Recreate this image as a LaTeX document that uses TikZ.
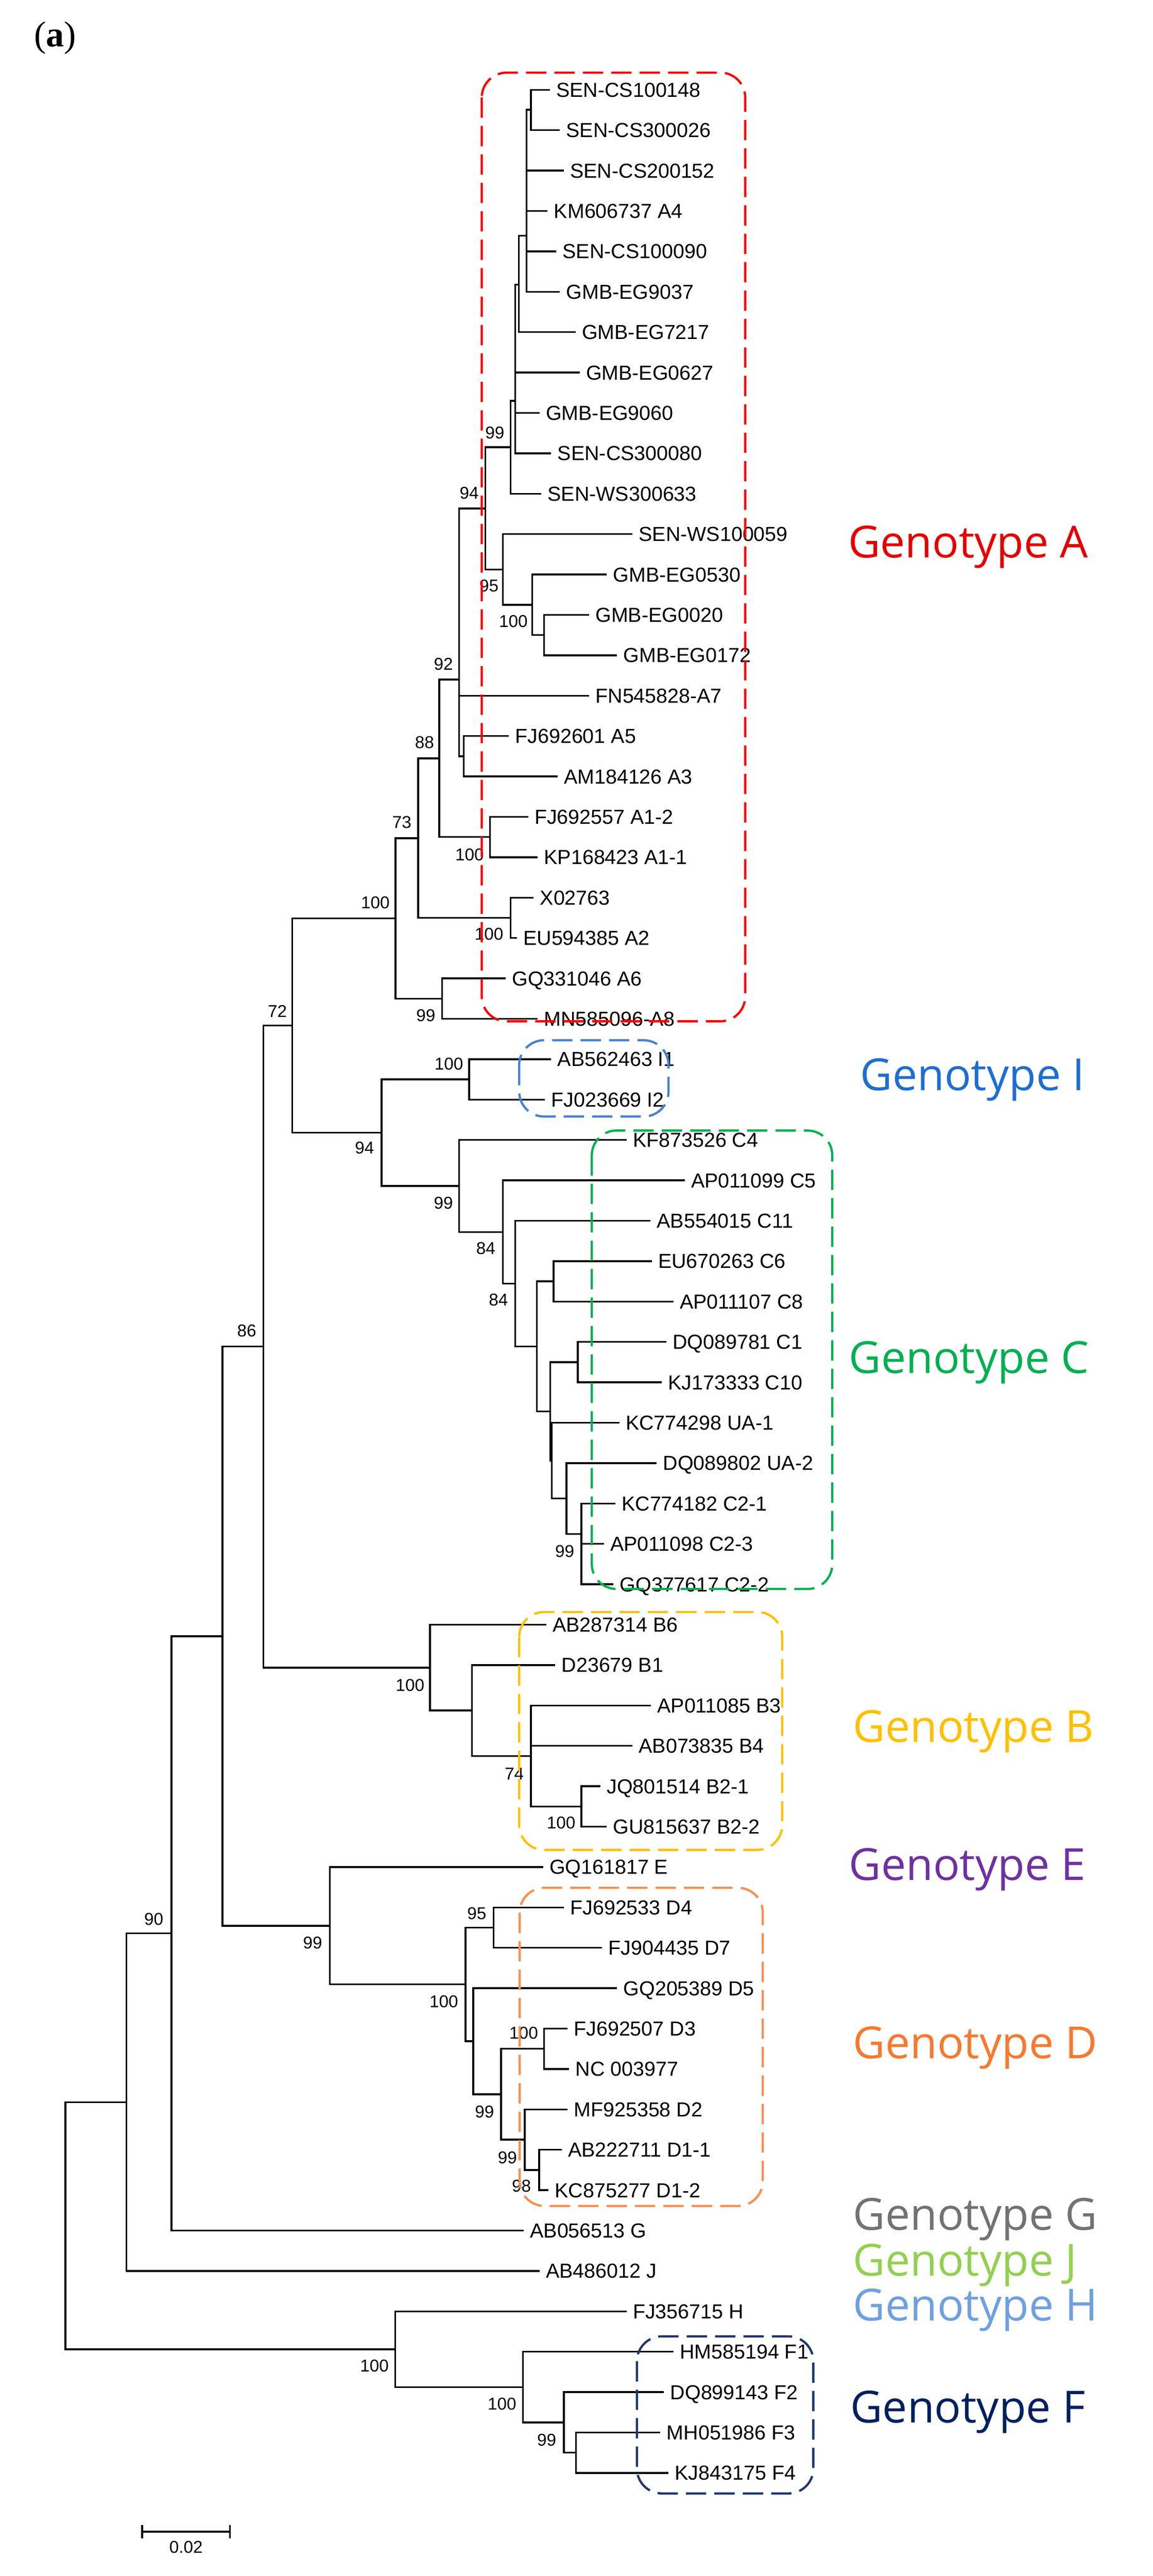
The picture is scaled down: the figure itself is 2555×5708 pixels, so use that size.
\documentclass[tikz,border=0pt]{standalone}
\usepackage{fontspec}
\setmainfont{Liberation Sans}
\newfontfamily\genofont{Open Sans}
\newfontfamily\panelfont{Liberation Serif}
\usetikzlibrary{calc}
\definecolor{genoA}{RGB}{230,0,0}
\definecolor{genoI}{RGB}{30,110,210}
\definecolor{genoC}{RGB}{0,176,80}
\definecolor{genoB}{RGB}{255,192,0}
\definecolor{genoE}{RGB}{112,48,160}
\definecolor{genoD}{RGB}{247,121,47}
\definecolor{genoG}{RGB}{118,113,113}
\definecolor{genoJ}{RGB}{146,208,80}
\definecolor{genoH}{RGB}{110,160,225}
\definecolor{genoF}{RGB}{0,32,96}
\definecolor{boxA}{RGB}{255,0,0}
\definecolor{boxI}{RGB}{70,130,210}
\definecolor{boxD}{RGB}{245,145,80}
\definecolor{boxF}{RGB}{31,56,110}

\begin{document}
\begin{tikzpicture}[
    x=1pt, y=-1pt,
    every node/.style={inner sep=0pt},
    branch/.style={line width=4pt, line cap=rect},
    leaf/.style={anchor=west, inner xsep=16pt, inner ysep=0pt, text height=32pt, text depth=0pt, font=\fontsize{45}{50}\selectfont},
    boot/.style={font=\fontsize{38}{40}\selectfont},
    clade/.style={line width=5pt, dash pattern=on 45pt off 18pt, rounded corners=55pt},
    geno/.style={anchor=west, font=\genofont\fontsize{98}{110}\selectfont}
]
\fill[white] (0,0) rectangle (2555,5708);
\useasboundingbox (0,0) rectangle (2555,5708);

\node[font=\panelfont\fontsize{80}{90}\selectfont] (panel) at (122,84) {(\textbf{a})};

% Leaves, genotype A
\node[leaf] (senCS100148) at (1217,199) {SEN-CS100148};
\node[leaf] (senCS300026) at (1239,288.5) {SEN-CS300026};
\node[leaf] (senCS200152) at (1248,378) {SEN-CS200152};
\node[leaf] (km606737) at (1212,467.5) {KM606737 A4};
\node[leaf] (senCS100090) at (1231,557) {SEN-CS100090};
\node[leaf] (gmbEG9037) at (1239,646.5) {GMB-EG9037};
\node[leaf] (gmbEG7217) at (1274,736) {GMB-EG7217};
\node[leaf] (gmbEG0627) at (1283,825.5) {GMB-EG0627};
\node[leaf] (gmbEG9060) at (1194,915) {GMB-EG9060};
\node[leaf] (senCS300080) at (1220,1004.5) {SEN-CS300080};
\node[leaf] (senWS300633) at (1198,1094) {SEN-WS300633};
\node[leaf] (senWS100059) at (1400,1183.5) {SEN-WS100059};
\node[leaf] (gmbEG0530) at (1343,1273) {GMB-EG0530};
\node[leaf] (gmbEG0020) at (1304,1362.5) {GMB-EG0020};
\node[leaf] (gmbEG0172) at (1366,1452) {GMB-EG0172};
\node[leaf] (fn545828) at (1304,1541.5) {FN545828-A7};
\node[leaf] (fj692601) at (1126,1631) {FJ692601 A5};
\node[leaf] (am184126) at (1234,1720.5) {AM184126 A3};
\node[leaf] (fj692557) at (1169,1810) {FJ692557 A1-2};
\node[leaf] (kp168423) at (1190,1899.5) {KP168423 A1-1};
\node[leaf] (x02763) at (1181,1989) {X02763};
\node[leaf] (eu594385) at (1144,2078.5) {EU594385 A2};
\node[leaf] (gq331046) at (1119,2168) {GQ331046 A6};
\node[leaf] (mn585096) at (1190,2257.5) {MN585096-A8};
% Leaves, genotype I and C
\node[leaf] (ab562463) at (1220,2347) {AB562463 I1};
\node[leaf] (fj023669) at (1206,2436.5) {FJ023669 I2};
\node[leaf] (kf873526) at (1387,2526) {KF873526 C4};
\node[leaf] (ap011099) at (1516,2615.5) {AP011099 C5};
\node[leaf] (ab554015) at (1440,2705) {AB554015 C11};
\node[leaf] (eu670263) at (1443,2794.5) {EU670263 C6};
\node[leaf] (ap011107) at (1491,2884) {AP011107 C8};
\node[leaf] (dq089781) at (1475,2973.5) {DQ089781 C1};
\node[leaf] (kj173333) at (1465,3063) {KJ173333 C10};
\node[leaf] (kc774298) at (1371,3152.5) {KC774298 UA-1};
\node[leaf] (dq089802) at (1454,3242) {DQ089802 UA-2};
\node[leaf] (kc774182) at (1362,3331.5) {KC774182 C2-1};
\node[leaf] (ap011098) at (1337,3421) {AP011098 C2-3};
\node[leaf] (gq377617) at (1358,3510.5) {GQ377617 C2-2};
% Leaves, genotype B, E, D
\node[leaf] (ab287314) at (1209,3600) {AB287314 B6};
\node[leaf] (d23679) at (1229,3689.5) {D23679 B1};
\node[leaf] (ap011085) at (1441,3779) {AP011085 B3};
\node[leaf] (ab073835) at (1400,3868.5) {AB073835 B4};
\node[leaf] (jq801514) at (1329,3958) {JQ801514 B2-1};
\node[leaf] (gu815637) at (1343,4047.5) {GU815637 B2-2};
\node[leaf] (gq161817) at (1202,4137) {GQ161817 E};
\node[leaf] (fj692533) at (1248,4226.5) {FJ692533 D4};
\node[leaf] (fj904435) at (1333,4316) {FJ904435 D7};
\node[leaf] (gq205389) at (1366,4405.5) {GQ205389 D5};
\node[leaf] (fj692507) at (1256,4495) {FJ692507 D3};
\node[leaf] (nc003977) at (1260,4584.5) {NC 003977};
\node[leaf] (mf925358) at (1256,4674) {MF925358 D2};
\node[leaf] (ab222711) at (1243,4763.5) {AB222711 D1-1};
\node[leaf] (kc875277) at (1214,4853) {KC875277 D1-2};
% Leaves, genotype G, J, H, F
\node[leaf] (ab056513) at (1159,4942.5) {AB056513 G};
\node[leaf] (ab486012) at (1194,5032) {AB486012 J};
\node[leaf] (fj356715) at (1387,5121.5) {FJ356715 H};
\node[leaf] (hm585194) at (1491,5211) {HM585194 F1};
\node[leaf] (dq899143) at (1470,5300.5) {DQ899143 F2};
\node[leaf] (mh051986) at (1462,5390) {MH051986 F3};
\node[leaf] (kj843175) at (1480,5479.5) {KJ843175 F4};

% Inner nodes
\coordinate (senPair) at (1177,243.25);
\coordinate (senCore) at (1167,522);
\coordinate (senMid) at (1150,631);
\coordinate (senLow) at (1142,888);
\coordinate (a99) at (1132,991);
\coordinate (a94) at (1076,1126.5);
\coordinate (a95) at (1115,1262);
\coordinate (a100) at (1180,1340);
\coordinate (gmbPair) at (1206,1407.25);
\coordinate (a92) at (1018,1506);
\coordinate (a5Pair) at (1028,1675.75);
\coordinate (a88) at (974,1680.4);
\coordinate (a1Pair) at (1086,1854.75);
\coordinate (a73) at (927,1857.1);
\coordinate (a2Pair) at (1132,2033.75);
\coordinate (a6Pair) at (980,2212.75);
\coordinate (cladeA) at (877,2034.9);
\coordinate (ac72) at (648,2272.4);
\coordinate (cladeI) at (1040,2391.75);
\coordinate (ic94) at (846,2509.9);
\coordinate (cladeC) at (1018,2628);
\coordinate (c84a) at (1115,2729.9);
\coordinate (c84b) at (1142,2844.2);
\coordinate (c6Node) at (1190,2983.3);
\coordinate (c6Pair) at (1227,2839.25);
\coordinate (c10Node) at (1220,3127.4);
\coordinate (c10Pair) at (1281,3018.25);
\coordinate (ua1Node) at (1223,3236.5);
\coordinate (ua2Node) at (1256,3320.5);
\coordinate (c2Node) at (1289,3399);
\coordinate (acb86) at (584,2983.8);
\coordinate (cladeB) at (953,3695.1);
\coordinate (b1Node) at (1046,3790.2);
\coordinate (b74) at (1177,3890.9);
\coordinate (b2Pair) at (1289,4002.75);
\coordinate (abcde) at (493,3625.4);
\coordinate (cladeE) at (731,4267);
\coordinate (cladeD) at (1032,4397.1);
\coordinate (d95) at (1094,4271.25);
\coordinate (d5Node) at (1049,4523);
\coordinate (d99a) at (1111,4640.4);
\coordinate (d3Pair) at (1206,4539.75);
\coordinate (d99b) at (1163,4741.1);
\coordinate (d1Pair) at (1195,4808.25);
\coordinate (g90) at (380,4284);
\coordinate (jNode) at (280,4658);
\coordinate (root) at (145,4931.7);
\coordinate (cladeH) at (876,5205.4);
\coordinate (cladeF) at (1159,5289.3);
\coordinate (f99) at (1250,5367.6);
\coordinate (f34Pair) at (1277,5434.75);

% Branches
\draw[branch] (senPair) |- (senCS100148) (senPair) |- (senCS300026);
\draw[branch] (senCore) |- (senPair) (senCore) |- (senCS200152) (senCore) |- (km606737)
              (senCore) |- (senCS100090) (senCore) |- (gmbEG9037);
\draw[branch] (senMid) |- (senCore) (senMid) |- (gmbEG7217);
\draw[branch] (senLow) |- (senMid) (senLow) |- (gmbEG0627) (senLow) |- (gmbEG9060) (senLow) |- (senCS300080);
\draw[branch] (a99) |- (senLow) (a99) |- (senWS300633);
\draw[branch] (a94) |- (a99) (a94) |- (a95);
\draw[branch] (a95) |- (senWS100059) (a95) |- (a100);
\draw[branch] (a100) |- (gmbEG0530) (a100) |- (gmbPair);
\draw[branch] (gmbPair) |- (gmbEG0020) (gmbPair) |- (gmbEG0172);
\draw[branch] (a92) |- (a94) (a92) |- (fn545828) (a92) |- (a5Pair);
\draw[branch] (a5Pair) |- (fj692601) (a5Pair) |- (am184126);
\draw[branch] (a88) |- (a92) (a88) |- (a1Pair);
\draw[branch] (a1Pair) |- (fj692557) (a1Pair) |- (kp168423);
\draw[branch] (a73) |- (a88) (a73) |- (a2Pair);
\draw[branch] (a2Pair) |- (x02763) (a2Pair) |- (eu594385);
\draw[branch] (cladeA) |- (a73) (cladeA) |- (a6Pair);
\draw[branch] (a6Pair) |- (gq331046) (a6Pair) |- (mn585096);
\draw[branch] (ac72) |- (cladeA) (ac72) |- (ic94);
\draw[branch] (ic94) |- (cladeI) (ic94) |- (cladeC);
\draw[branch] (cladeI) |- (ab562463) (cladeI) |- (fj023669);
\draw[branch] (cladeC) |- (kf873526) (cladeC) |- (c84a);
\draw[branch] (c84a) |- (ap011099) (c84a) |- (c84b);
\draw[branch] (c84b) |- (ab554015) (c84b) |- (c6Node);
\draw[branch] (c6Node) |- (c6Pair) (c6Node) |- (c10Node);
\draw[branch] (c6Pair) |- (eu670263) (c6Pair) |- (ap011107);
\draw[branch] (c10Node) |- (c10Pair) (c10Node) |- (ua1Node);
\draw[branch] (c10Pair) |- (dq089781) (c10Pair) |- (kj173333);
\draw[branch] (ua1Node) |- (kc774298) (ua1Node) |- (ua2Node);
\draw[branch] (ua2Node) |- (dq089802) (ua2Node) |- (c2Node);
\draw[branch] (c2Node) |- (kc774182) (c2Node) |- (ap011098) (c2Node) |- (gq377617);
\draw[branch] (acb86) |- (ac72) (acb86) |- (cladeB);
\draw[branch] (cladeB) |- (ab287314) (cladeB) |- (b1Node);
\draw[branch] (b1Node) |- (d23679) (b1Node) |- (b74);
\draw[branch] (b74) |- (ap011085) (b74) |- (ab073835) (b74) |- (b2Pair);
\draw[branch] (b2Pair) |- (jq801514) (b2Pair) |- (gu815637);
\draw[branch] (abcde) |- (acb86) (abcde) |- (cladeE);
\draw[branch] (cladeE) |- (gq161817) (cladeE) |- (cladeD);
\draw[branch] (cladeD) |- (d95) (cladeD) |- (d5Node);
\draw[branch] (d95) |- (fj692533) (d95) |- (fj904435);
\draw[branch] (d5Node) |- (gq205389) (d5Node) |- (d99a);
\draw[branch] (d99a) |- (d3Pair) (d99a) |- (d99b);
\draw[branch] (d3Pair) |- (fj692507) (d3Pair) |- (nc003977);
\draw[branch] (d99b) |- (mf925358) (d99b) |- (d1Pair);
\draw[branch] (d1Pair) |- (ab222711) (d1Pair) |- (kc875277);
\draw[branch] (g90) |- (abcde) (g90) |- (ab056513);
\draw[branch] (jNode) |- (g90) (jNode) |- (ab486012);
\draw[branch] (root) |- (jNode) (root) |- (cladeH);
\draw[branch] (cladeH) |- (fj356715) (cladeH) |- (cladeF);
\draw[branch] (cladeF) |- (hm585194) (cladeF) |- (f99);
\draw[branch] (f99) |- (dq899143) (f99) |- (f34Pair);
\draw[branch] (f34Pair) |- (mh051986) (f34Pair) |- (kj843175);

% Bootstrap values
\node[boot] (bsA99) at (1097,959) {99};
\node[boot] (bsA94) at (1040,1092) {94};
\node[boot] (bsA95) at (1084,1298) {95};
\node[boot] (bsA100) at (1138,1377) {100};
\node[boot] (bsA92) at (983,1472) {92};
\node[boot] (bsA88) at (941,1645) {88};
\node[boot] (bsA73) at (891,1822) {73};
\node[boot] (bsA1) at (1041,1894) {100};
\node[boot] (bsAll) at (832,2000) {100};
\node[boot] (bsA2) at (1084,2070) {100};
\node[boot] (bsA6) at (944,2250) {99};
\node[boot] (bs72) at (615,2241) {72};
\node[boot] (bsI) at (995,2357) {100};
\node[boot] (bsIC) at (808,2544) {94};
\node[boot] (bsC) at (983,2666) {99};
\node[boot] (bsC84a) at (1077,2766) {84};
\node[boot] (bsC84b) at (1105,2880) {84};
\node[boot] (bs86) at (547,2949) {86};
\node[boot] (bsC2) at (1252,3437) {99};
\node[boot] (bsB) at (909,3734) {100};
\node[boot] (bsB74) at (1140,3930) {74};
\node[boot] (bsB2) at (1244,4039) {100};
\node[boot] (bs90) at (341,4252) {90};
\node[boot] (bsE) at (693,4305) {99};
\node[boot] (bsD95) at (1057,4240) {95};
\node[boot] (bsD) at (984,4435) {100};
\node[boot] (bsD3) at (1161,4505) {100};
\node[boot] (bsD99a) at (1074,4679) {99};
\node[boot] (bsD99b) at (1125,4781) {99};
\node[boot] (bsD1) at (1156,4844) {98};
\node[boot] (bsH) at (830,5242) {100};
\node[boot] (bsF) at (1113,5327) {100};
\node[boot] (bsF99) at (1212,5407) {99};

% Genotype boxes
\draw[clade, boxA] (1068,161) rectangle (1652,2263);
\draw[clade, boxI] (1151,2305) rectangle (1482,2474);
\draw[clade, genoC] (1312,2505) rectangle (1845,3521);
\draw[clade, genoB] (1151,3572) rectangle (1734,4099);
\draw[clade, boxD] (1152,4183) rectangle (1691,4888);
\draw[clade, boxF] (1412,5177) rectangle (1803,5525);

% Genotype labels
\node[geno, text=genoA] (labelA) at (1880,1212) {Genotype A};
\node[geno, text=genoI] (labelI) at (1907,2393) {Genotype I};
\node[geno, text=genoC] (labelC) at (1882,3019) {Genotype C};
\node[geno, text=genoB] (labelB) at (1891,3836) {Genotype B};
\node[geno, text=genoE] (labelE) at (1882,4143) {Genotype E};
\node[geno, text=genoD] (labelD) at (1891,4537) {Genotype D};
\node[geno, text=genoG] (labelG) at (1891,4918) {Genotype G};
\node[geno, text=genoJ] (labelJ) at (1891,5019) {Genotype J};
\node[geno, text=genoH] (labelH) at (1891,5119) {Genotype H};
\node[geno, text=genoF] (labelF) at (1885,5345) {Genotype F};

% Scale bar
\coordinate (barL) at (315,5610);
\coordinate (barR) at (510,5610);
\draw[line width=4pt] (barL) -- (barR);
\draw[line width=4pt] ([yshift=-15pt]barL) -- ([yshift=15pt]barL);
\draw[line width=4pt] ([yshift=-15pt]barR) -- ([yshift=15pt]barR);
\node[boot, below=20pt] (barLabel) at ($(barL)!0.5!(barR)$) {0.02};
\end{tikzpicture}
\end{document}
